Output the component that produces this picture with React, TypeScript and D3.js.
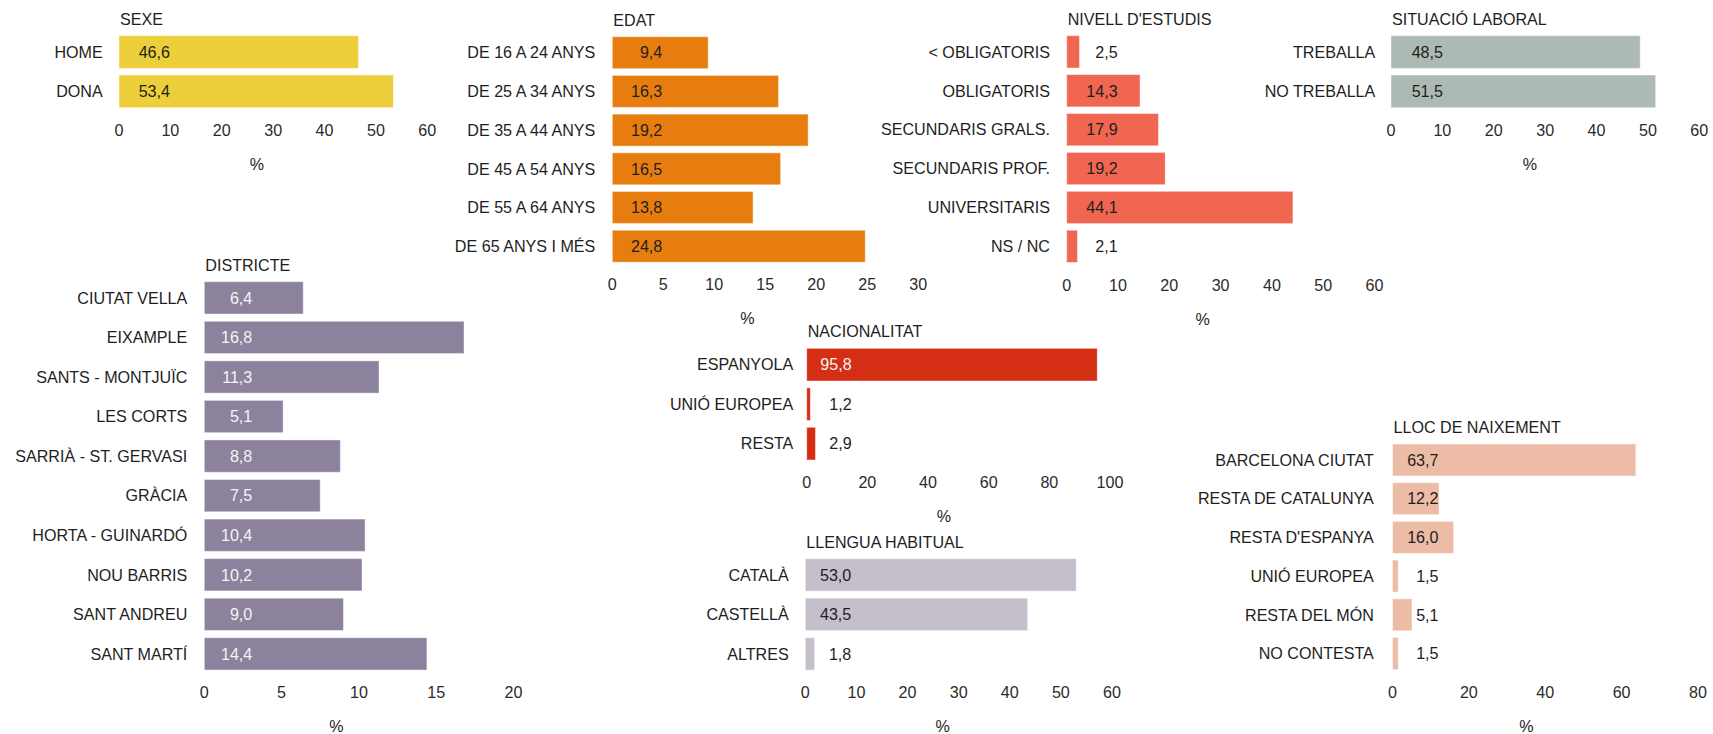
import React from 'react';
import * as d3 from 'd3';

// --- data -------------------------------------------------------------
const sexeCats = ['HOME', 'DONA'];
const sexeVals = [46.6, 53.4];

const edatCats = ['DE 16 A 24 ANYS', 'DE 25 A 34 ANYS', 'DE 35 A 44 ANYS', 'DE 45 A 54 ANYS', 'DE 55 A 64 ANYS', 'DE 65 ANYS I MÉS'];
const edatVals = [9.4, 16.3, 19.2, 16.5, 13.8, 24.8];

const estudisCats = ['< OBLIGATORIS', 'OBLIGATORIS', 'SECUNDARIS GRALS.', 'SECUNDARIS PROF.', 'UNIVERSITARIS', 'NS / NC'];
const estudisVals = [2.5, 14.3, 17.9, 19.2, 44.1, 2.1];

const laboralCats = ['TREBALLA', 'NO TREBALLA'];
const laboralVals = [48.5, 51.5];

const districteCats = ['CIUTAT VELLA', 'EIXAMPLE', 'SANTS - MONTJUÏC', 'LES CORTS', 'SARRIÀ - ST. GERVASI', 'GRÀCIA', 'HORTA - GUINARDÓ', 'NOU BARRIS', 'SANT ANDREU', 'SANT MARTÍ'];
const districteVals = [6.4, 16.8, 11.3, 5.1, 8.8, 7.5, 10.4, 10.2, 9.0, 14.4];

const nacionalitatCats = ['ESPANYOLA', 'UNIÓ EUROPEA', 'RESTA'];
const nacionalitatVals = [95.8, 1.2, 2.9];

const llenguaCats = ['CATALÀ', 'CASTELLÀ', 'ALTRES'];
const llenguaVals = [53.0, 43.5, 1.8];

const naixementCats = ['BARCELONA CIUTAT', 'RESTA DE CATALUNYA', "RESTA D'ESPANYA", 'UNIÓ EUROPEA', 'RESTA DEL MÓN', 'NO CONTESTA'];
const naixementVals = [63.7, 12.2, 16.0, 1.5, 5.1, 1.5];

const ticks60 = [0, 10, 20, 30, 40, 50, 60];
const ticks30 = [0, 5, 10, 15, 20, 25, 30];
const ticks20 = [0, 5, 10, 15, 20];
const ticks100 = [0, 20, 40, 60, 80, 100];
const ticks80 = [0, 20, 40, 60, 80];

// --- layout -----------------------------------------------------------
const W = 1713;
const H = 734;
const FONT = '"Liberation Sans", Arial, sans-serif';
const FS = 16.1;
const TEXT = '#1e1e1e';

interface PanelDef {
  title: string;
  cats: string[];
  vals: number[];
  ticks: number[];
  color: string;
  x0: number;       // pixel of 0
  xMax: number;     // pixel of last tick
  top: number;      // top of first bar
  step: number;
  barH: number;
  valOff: number;   // right end of value labels from x0
  catGap: number;   // gap between category labels and x0
  pctOff: number;   // x of "%" from x0
  darkBar?: boolean;
}

const panels: PanelDef[] = [
  { title: 'SEXE', cats: sexeCats, vals: sexeVals, ticks: ticks60, color: '#EDCF3B',
    x0: 119, xMax: 427.3, top: 35.7, step: 39.3, barH: 32.7, valOff: 51, catGap: 16.3, pctOff: 138 },
  { title: 'EDAT', cats: edatCats, vals: edatVals, ticks: ticks30, color: '#E87D0F',
    x0: 612.3, xMax: 918.3, top: 36.7, step: 38.7, barH: 32, valOff: 50, catGap: 17, pctOff: 135 },
  { title: "NIVELL D'ESTUDIS", cats: estudisCats, vals: estudisVals, ticks: ticks60, color: '#F06651',
    x0: 1066.7, xMax: 1374.5, top: 35.7, step: 38.9, barH: 32.3, valOff: 51, catGap: 16.7, pctOff: 136 },
  { title: 'SITUACIÓ LABORAL', cats: laboralCats, vals: laboralVals, ticks: ticks60, color: '#ADBAB3',
    x0: 1391, xMax: 1699.3, top: 35.7, step: 39.3, barH: 32.7, valOff: 52, catGap: 15.7, pctOff: 139 },
  { title: 'DISTRICTE', cats: districteCats, vals: districteVals, ticks: ticks20, color: '#8C829E',
    x0: 204.3, xMax: 513.5, top: 281.7, step: 39.56, barH: 32.3, valOff: 48, catGap: 17, pctOff: 132, darkBar: true },
  { title: 'NACIONALITAT', cats: nacionalitatCats, vals: nacionalitatVals, ticks: ticks100, color: '#D42F14',
    x0: 806.7, xMax: 1110, top: 348.3, step: 39.5, barH: 32.7, valOff: 45, catGap: 13.4, pctOff: 137.3, darkBar: true },
  { title: 'LLENGUA HABITUAL', cats: llenguaCats, vals: llenguaVals, ticks: ticks60, color: '#C5BECB',
    x0: 805.3, xMax: 1112, top: 558.7, step: 39.5, barH: 32.4, valOff: 46, catGap: 16.6, pctOff: 137.4 },
  { title: 'LLOC DE NAIXEMENT', cats: naixementCats, vals: naixementVals, ticks: ticks80, color: '#EDBCA6',
    x0: 1392.5, xMax: 1698, top: 444, step: 38.7, barH: 32, valOff: 46, catGap: 18.7, pctOff: 134 },
];

const fmt = (v: number) => v.toFixed(1).replace('.', ',');

const Panel: React.FC<{ p: PanelDef }> = ({ p }) => {
  const n = p.cats.length;
  const pad = 1 - p.barH / p.step;
  const y = d3.scaleBand<string>()
    .domain(p.cats)
    .range([p.top - (p.step * pad) / 2, p.top - (p.step * pad) / 2 + n * p.step])
    .paddingInner(pad)
    .paddingOuter(pad / 2);
  const x = d3.scaleLinear()
    .domain([0, p.ticks[p.ticks.length - 1]])
    .range([p.x0, p.xMax]);
  const lastBottom = (y(p.cats[n - 1]) ?? 0) + y.bandwidth();
  const labelX = p.x0 + p.valOff;

  return (
    <g>
      <text x={p.x0 + 1} y={p.top - 11} fontSize={FS} fill={TEXT}>{p.title}</text>
      {p.cats.map((c, i) => {
        const yy = y(c) ?? 0;
        const cy = yy + y.bandwidth() / 2;
        const inside = x(p.vals[i]) > labelX;
        return (
          <g key={c}>
            <rect x={x(0)} y={yy} width={x(p.vals[i]) - x(0)} height={y.bandwidth()}
              fill={p.color} stroke="#fff" strokeOpacity={0.45} strokeWidth={1} />
            <text x={p.x0 - p.catGap} y={cy} dy="0.36em" textAnchor="end" fontSize={FS} fill={TEXT}>{c}</text>
            <text x={labelX} y={cy} dy="0.36em" textAnchor="end" fontSize={FS}
              fill={p.darkBar && inside ? '#f4f4f4' : TEXT}>{fmt(p.vals[i])}</text>
          </g>
        );
      })}
      {p.ticks.map(t => (
        <text key={t} x={x(t)} y={lastBottom + 22.5} dy="0.36em" textAnchor="middle" fontSize={FS} fill="#2b2b2b">{t}</text>
      ))}
      <text x={p.x0 + p.pctOff} y={lastBottom + 56.5} dy="0.36em" textAnchor="middle" fontSize={FS} fill={TEXT}>%</text>
    </g>
  );
};

export default function App() {
  return (
    <svg width={W} height={H} fontFamily={FONT}
      style={{ position: 'absolute', left: 0, top: 0, display: 'block', background: '#fff' }}>
      {panels.map(p => <Panel key={p.title} p={p} />)}
    </svg>
  );
}
